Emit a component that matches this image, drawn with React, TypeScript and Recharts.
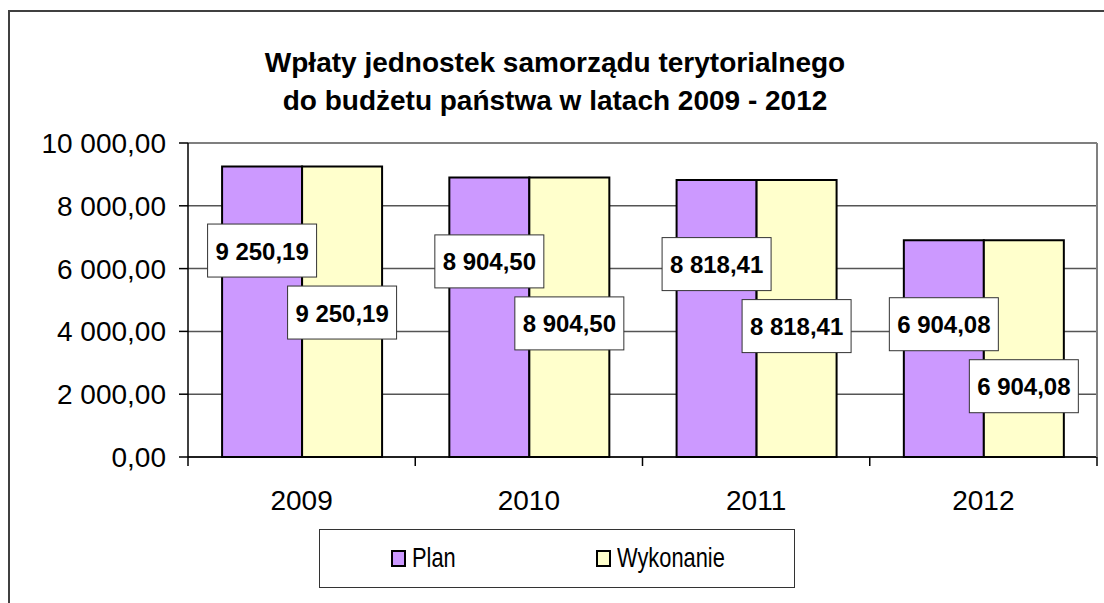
import React from "react";
import {
  BarChart,
  Bar,
  XAxis,
  YAxis,
  CartesianGrid,
  LabelList,
} from "recharts";

// --- Data ---

const years = ["2009", "2010", "2011", "2012"];
const planValues = [9250.19, 8904.5, 8818.41, 6904.08];
const wykonanieValues = [9250.19, 8904.5, 8818.41, 6904.08];
const yTicks = [0, 2000, 4000, 6000, 8000, 10000];

const seriesNames = { plan: "Plan", wykonanie: "Wykonanie" };

const data = years.map((year, i) => ({
  year,
  plan: planValues[i],
  wykonanie: wykonanieValues[i],
}));

// --- Styles ---

const W = 1104;
const H = 603;
const PLAN_COLOR = "#CC99FF";
const WYK_COLOR = "#FFFFCC";
const FONT = "'Liberation Sans', Arial, sans-serif";

const margin = { top: 143, right: 7, bottom: 0, left: 0 };
const yAxisWidth = 188;
const xAxisHeight = H - 457;
const plotWidth = W - margin.left - margin.right - yAxisWidth;
const plotHeight = H - margin.top - margin.bottom - xAxisHeight;
const band = plotWidth / years.length;

const formatPl = (v: number) => {
  const [i, d] = v.toFixed(2).split(".");
  return i.replace(/\B(?=(\d{3})+(?!\d))/g, " ") + "," + d;
};

function makeLabel(dy: number) {
  return (props: any) => {
    const { x, y, width, value } = props;
    const cx = x + width / 2;
    const cy = y + dy;
    const bw = 109;
    const bh = 53;
    return (
      <g>
        <rect x={cx - bw / 2} y={cy - bh / 2} width={bw} height={bh} fill="#fff" stroke="#333" strokeWidth={1} />
        <text
          x={cx}
          y={cy + 9}
          textAnchor="middle"
          fontFamily={FONT}
          fontWeight="bold"
          fontSize={24}
          fill="#000"
        >
          {formatPl(value)}
        </text>
      </g>
    );
  };
}

// category-boundary ticks like Excel, plus the grey right edge of the plot area
function XTick(props: any) {
  const { x, y, payload, index } = props;
  const left = x - band / 2;
  const right = x + band / 2;
  const last = index === years.length - 1;
  return (
    <g>
      <line x1={left} y1={y} x2={left} y2={y + 9} stroke="#000" strokeWidth={1.5} />
      {last && (
        <>
          <line x1={right} y1={y - plotHeight} x2={right} y2={y} stroke="#808080" strokeWidth={2} />
          <line x1={right} y1={y} x2={right} y2={y + 9} stroke="#000" strokeWidth={1.5} />
        </>
      )}
      <text x={x} y={y + 53} textAnchor="middle" fontFamily={FONT} fontSize={28} fill="#000">
        {payload.value}
      </text>
    </g>
  );
}

function LegendBox() {
  const item = (color: string, label: string, left: number) => (
    <div style={{ position: "absolute", left, top: 10, display: "flex", alignItems: "center" }}>
      <div style={{ width: 11, height: 13, background: color, border: "2px solid #000", marginRight: 6 }} />
      <span
        style={{
          fontFamily: FONT,
          fontSize: 28,
          color: "#000",
          lineHeight: "36px",
          display: "inline-block",
          transform: "scaleX(0.78)",
          transformOrigin: "left center",
        }}
      >
        {label}
      </span>
    </div>
  );
  return (
    <div
      style={{
        position: "absolute",
        left: 319,
        top: 529,
        width: 474,
        height: 57,
        border: "1px solid #333",
        background: "#fff",
      }}
    >
      {item(PLAN_COLOR, seriesNames.plan, 71)}
      {item(WYK_COLOR, seriesNames.wykonanie, 276)}
    </div>
  );
}

export default function App() {
  return (
    <div style={{ position: "absolute", left: 0, top: 0, width: W, height: H, overflow: "hidden", background: "#fff" }}>
      <div
        style={{
          position: "absolute",
          left: 8,
          top: 10,
          width: W + 50,
          height: H + 50,
          border: "2px solid #404040",
        }}
      />
      <div
        style={{
          position: "absolute",
          left: 0,
          width: 1110,
          top: 44,
          textAlign: "center",
          fontFamily: FONT,
          fontWeight: "bold",
          fontSize: 28,
          lineHeight: "38px",
          color: "#000",
        }}
      >
        Wpłaty jednostek samorządu terytorialnego
        <br />
        do budżetu państwa w latach 2009 - 2012
      </div>
      <div style={{ position: "absolute", left: 0, top: 0 }}>
        <BarChart width={W} height={H} data={data} margin={margin} barCategoryGap="15%" barGap={0}>
          <CartesianGrid vertical={false} stroke="#555" strokeWidth={1.5} />
          <XAxis
            dataKey="year"
            height={xAxisHeight}
            axisLine={{ stroke: "#000", strokeWidth: 1.5 }}
            tickLine={false}
            tickSize={0}
            tickMargin={0}
            interval={0}
            tick={<XTick />}
          />
          <YAxis
            width={yAxisWidth}
            domain={[0, 10000]}
            ticks={yTicks}
            interval={0}
            tickFormatter={formatPl}
            tickSize={9}
            tickMargin={13}
            axisLine={{ stroke: "#000", strokeWidth: 1.5 }}
            tickLine={{ stroke: "#000", strokeWidth: 1.5 }}
            tick={{ fontFamily: FONT, fontSize: 28, fill: "#000" }}
          />
          <Bar dataKey="plan" name={seriesNames.plan} fill={PLAN_COLOR} stroke="#000" strokeWidth={2} isAnimationActive={false}>
            <LabelList dataKey="plan" content={makeLabel(84)} />
          </Bar>
          <Bar dataKey="wykonanie" name={seriesNames.wykonanie} fill={WYK_COLOR} stroke="#000" strokeWidth={2} isAnimationActive={false}>
            <LabelList dataKey="wykonanie" content={makeLabel(146)} />
          </Bar>
        </BarChart>
      </div>
      <LegendBox />
    </div>
  );
}
